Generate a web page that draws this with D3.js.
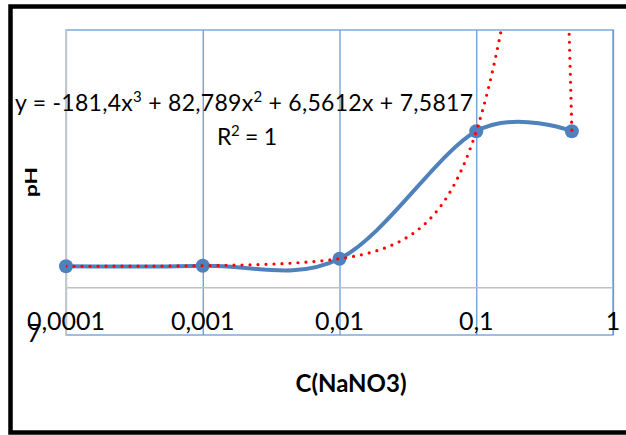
<!DOCTYPE html>
<html>
<head>
<meta charset="utf-8">
<script src="https://cdn.jsdelivr.net/npm/d3@7"></script>
<style>
	body { margin: 0; background: #ffffff; }
	text { font-family: Lato, "Open Sans", sans-serif; fill: #000000; }
</style>
</head>
<body>
<div id="chart"></div>
<script>

///////////////////////////////////////////////////////////////////////////
/////////////////////////////////// Data //////////////////////////////////
///////////////////////////////////////////////////////////////////////////

var concentrations = [0.0001, 0.001, 0.01, 0.1, 0.5];
var phValues = [7.582, 7.588, 7.655, 8.884, 8.884];
var xTickValues = [0.0001, 0.001, 0.01, 0.1, 1];
var xTickLabels = ["0,0001", "0,001", "0,01", "0,1", "1"];
var yTickLabels = ["7"];
//Polynomial trendline coefficients from the chart label: a3, a2, a1, a0
var trendCoefs = [-181.4, 82.789, 6.5612, 7.5817];

///////////////////////////////////////////////////////////////////////////
//////////////////// Set up and initiate svg containers ///////////////////
///////////////////////////////////////////////////////////////////////////

var width = 626,
	height = 435;

var plot = { left: 66, top: 30, right: 613, bottom: 335 };

var svg = d3.select("#chart")
	.append("svg")
	.attr("width", width)
	.attr("height", height);

//Outer black frame (right side runs off the picture)
svg.append("rect")
	.attr("x", 10.5)
	.attr("y", 6.5)
	.attr("width", 700)
	.attr("height", 426)
	.style("fill", "#ffffff")
	.style("stroke", "#000000")
	.style("stroke-width", 4.5);

///////////////////////////////////////////////////////////////////////////
///////////////////////////////// Scales //////////////////////////////////
///////////////////////////////////////////////////////////////////////////

var x = d3.scaleLog()
	.domain([0.0001, 1])
	.range([plot.left, plot.right]);

var y = d3.scaleLinear()
	.domain([6.92, 9.86])
	.range([plot.bottom, plot.top]);

//Value where the horizontal axis crosses
var xAxisCross = 7.375;

///////////////////////////////////////////////////////////////////////////
/////////////////////////////// Grid & axes ///////////////////////////////
///////////////////////////////////////////////////////////////////////////

var gridColor = "#6A9BD3";

//Vertical gridlines
svg.append("g")
	.attr("class", "x-grid")
	.attr("transform", "translate(0," + plot.bottom + ")")
	.call(d3.axisBottom(x).tickValues(xTickValues).tickSize(-(plot.bottom - plot.top)).tickFormat(""))
	.call(function(g) {
		g.select(".domain").remove();
		g.selectAll("line").style("stroke", gridColor).style("stroke-width", 1.3);
	});

//Plot area border
svg.append("rect")
	.attr("x", plot.left)
	.attr("y", plot.top)
	.attr("width", plot.right - plot.left)
	.attr("height", plot.bottom - plot.top)
	.style("fill", "none")
	.style("stroke", gridColor)
	.style("stroke-width", 1.3);

//Horizontal axis line (grey)
svg.append("line")
	.attr("x1", plot.left)
	.attr("x2", plot.right)
	.attr("y1", y(xAxisCross))
	.attr("y2", y(xAxisCross))
	.style("stroke", "#C0C0C0")
	.style("stroke-width", 1.5);

//Vertical axis line (grey)
svg.append("line")
	.attr("x1", plot.left)
	.attr("x2", plot.left)
	.attr("y1", plot.top)
	.attr("y2", plot.bottom)
	.style("stroke", "#C4C8CC")
	.style("stroke-width", 2);

//X tick labels, placed low
svg.append("g")
	.selectAll("text")
	.data(xTickValues)
	.enter().append("text")
	.attr("x", function(d) { return x(d); })
	.attr("y", 330)
	.attr("text-anchor", "middle")
	.style("font-size", "25px")
	.text(function(d, i) { return xTickLabels[i]; });

//Y tick label at the bottom of the axis
svg.append("text")
	.attr("x", 34)
	.attr("y", plot.bottom + 7)
	.attr("text-anchor", "middle")
	.style("font-size", "25px")
	.text(yTickLabels[0]);

//Axis titles
svg.append("text")
	.attr("x", 351)
	.attr("y", 392)
	.attr("text-anchor", "middle")
	.style("font-size", "24px")
	.style("font-weight", "bold")
	.text("C(NaNO3)");

svg.append("text")
	.attr("transform", "translate(37,182) rotate(-90)")
	.attr("text-anchor", "middle")
	.attr("textLength", 30)
	.attr("lengthAdjust", "spacingAndGlyphs")
	.style("font-size", "17px")
	.style("font-weight", "bold")
	.text("pH");

///////////////////////////////////////////////////////////////////////////
/////////////////////////////// Data series ///////////////////////////////
///////////////////////////////////////////////////////////////////////////

var data = concentrations.map(function(c, i) { return { c: c, ph: phValues[i] }; });

var line = d3.line()
	.x(function(d) { return x(d.c); })
	.y(function(d) { return y(d.ph); })
	.curve(d3.curveCardinal.tension(0));

svg.append("path")
	.datum(data)
	.attr("d", line)
	.style("fill", "none")
	.style("stroke", "#4F81BD")
	.style("stroke-width", 4);

svg.selectAll(".marker")
	.data(data)
	.enter().append("circle")
	.attr("class", "marker")
	.attr("cx", function(d) { return x(d.c); })
	.attr("cy", function(d) { return y(d.ph); })
	.attr("r", 7)
	.style("fill", "#4F81BD");

///////////////////////////////////////////////////////////////////////////
//////////////////////////////// Trendline ////////////////////////////////
///////////////////////////////////////////////////////////////////////////

svg.append("clipPath")
	.attr("id", "plot-clip")
	.append("rect")
	.attr("x", plot.left)
	.attr("y", plot.top)
	.attr("width", plot.right - plot.left)
	.attr("height", plot.bottom - plot.top);

function poly(c) {
	return ((trendCoefs[0] * c + trendCoefs[1]) * c + trendCoefs[2]) * c + trendCoefs[3];
}

//Sample the fitted polynomial evenly along the log axis, over the data range
var logMin = Math.log10(d3.min(concentrations)),
	logMax = Math.log10(d3.max(concentrations));
var trendX = d3.range(0, 801).map(function(i) {
	return Math.pow(10, logMin + i / 800 * (logMax - logMin));
});

svg.append("path")
	.datum(trendX)
	.attr("clip-path", "url(#plot-clip)")
	.attr("d", d3.line()
		.x(function(d) { return x(d); })
		.y(function(d) { return y(Math.min(poly(d), 11)); }))
	.style("fill", "none")
	.style("stroke", "#FF0000")
	.style("stroke-width", 3.2)
	.style("stroke-linecap", "round")
	.style("stroke-dasharray", "0,8");

///////////////////////////////////////////////////////////////////////////
//////////////////////////// Trendline label //////////////////////////////
///////////////////////////////////////////////////////////////////////////

var eqParts = [
	["y = -181,4x", false], ["3", true], [" + 82,789x", false], ["2", true], [" + 6,5612x + 7,5817", false]
];

var eq = svg.append("text")
	.attr("x", 15)
	.attr("y", 111)
	.attr("textLength", 458)
	.attr("lengthAdjust", "spacing")
	.style("font-size", "23px");

eqParts.forEach(function(p) {
	eq.append("tspan")
		.attr("baseline-shift", p[1] ? "super" : null)
		.style("font-size", p[1] ? "15px" : null)
		.text(p[0]);
});

var r2 = svg.append("text")
	.attr("x", 217)
	.attr("y", 145)
	.attr("textLength", 60)
	.attr("lengthAdjust", "spacing")
	.style("font-size", "23px");
r2.append("tspan").text("R");
r2.append("tspan").attr("baseline-shift", "super").style("font-size", "15px").text("2");
r2.append("tspan").text(" = 1");

</script>
</body>
</html>
